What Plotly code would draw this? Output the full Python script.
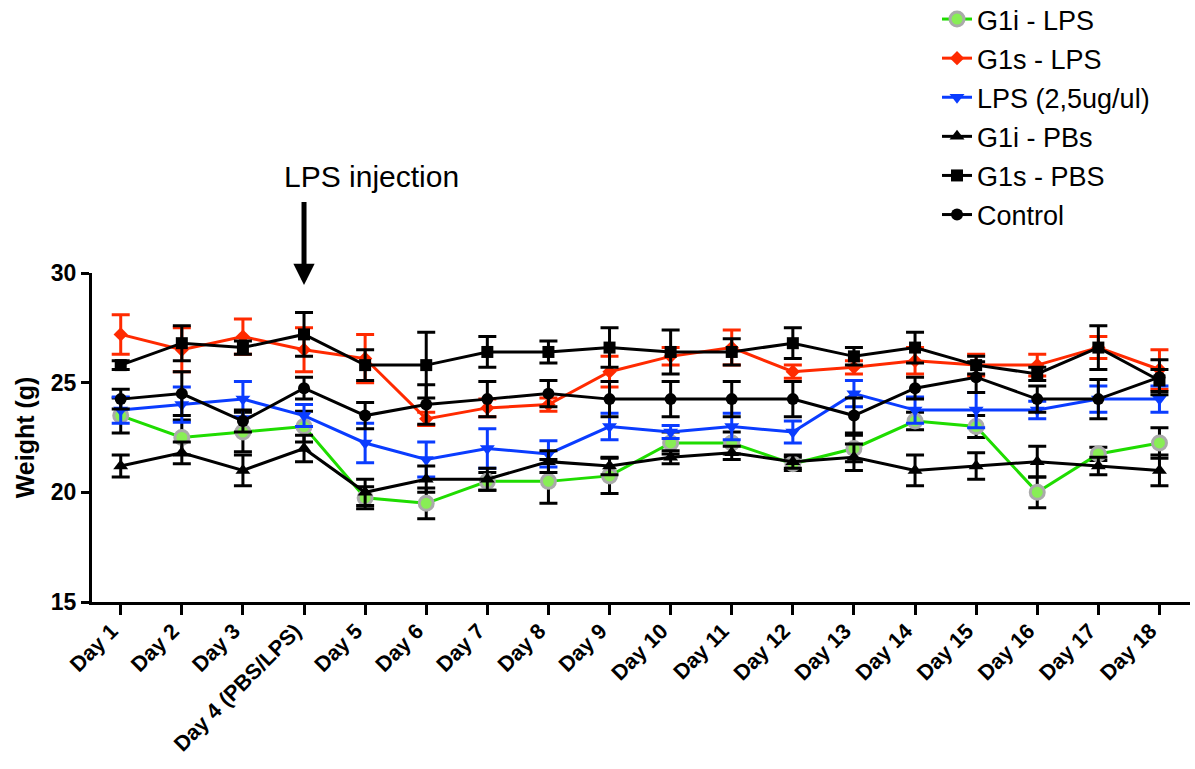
import plotly.graph_objects as go

days = ["Day 1", "Day 2", "Day 3", "Day 4 (PBS/LPS)", "Day 5", "Day 6", "Day 7", "Day 8",
        "Day 9", "Day 10", "Day 11", "Day 12", "Day 13", "Day 14", "Day 15", "Day 16",
        "Day 17", "Day 18"]

g1i_lps = [23.5, 22.5, 22.75, 23.0, 19.75, 19.5, 20.5, 20.5, 20.75, 22.25, 22.25, 21.3, 22.0, 23.25, 23.0, 20.0, 21.75, 22.25]
g1i_lps_err = [0.8, 0.8, 0.9, 0.7, 0.5, 0.7, 0.4, 1.0, 0.8, 0.5, 0.5, 0.3, 0.6, 0.4, 0.5, 0.7, 0.3, 0.7]

g1s_lps = [27.2, 26.5, 27.1, 26.5, 26.1, 23.35, 23.85, 24.0, 25.5, 26.2, 26.6, 25.5, 25.7, 26.0, 25.8, 25.8, 26.6, 25.6]
g1s_lps_err = [0.9, 1.0, 0.8, 1.0, 1.1, 0.3, 0.4, 0.3, 0.7, 0.4, 0.8, 0.3, 0.3, 0.6, 0.5, 0.5, 0.5, 0.9]

lps = [23.75, 24.0, 24.25, 23.5, 22.25, 21.5, 22.0, 21.75, 23.0, 22.75, 23.0, 22.75, 24.5, 23.75, 23.75, 23.75, 24.25, 24.25]
lps_err = [0.6, 0.8, 0.8, 0.5, 0.9, 0.8, 0.9, 0.6, 0.6, 0.3, 0.6, 0.5, 0.6, 0.6, 0.8, 0.4, 0.6, 0.6]

g1i_pbs = [21.2, 21.8, 21.0, 22.0, 20.0, 20.6, 20.6, 21.4, 21.2, 21.6, 21.8, 21.4, 21.6, 21.0, 21.2, 21.4, 21.2, 21.0]
g1i_pbs_err = [0.5, 0.5, 0.7, 0.6, 0.6, 0.6, 0.5, 0.5, 0.4, 0.3, 0.3, 0.3, 0.6, 0.7, 0.6, 0.7, 0.4, 0.7]

g1s_pbs = [25.8, 26.8, 26.6, 27.2, 25.8, 25.8, 26.4, 26.4, 26.6, 26.4, 26.4, 26.8, 26.2, 26.6, 25.8, 25.4, 26.6, 25.1]
g1s_pbs_err = [0.2, 0.8, 0.3, 1.0, 0.7, 1.5, 0.7, 0.5, 0.9, 1.0, 0.6, 0.7, 0.4, 0.7, 0.4, 0.3, 1.0, 0.5]

control = [24.25, 24.5, 23.25, 24.75, 23.5, 24.0, 24.25, 24.5, 24.25, 24.25, 24.25, 24.25, 23.5, 24.75, 25.25, 24.25, 24.25, 25.25]
control_err = [0.45, 1.0, 0.5, 0.5, 0.6, 0.9, 0.8, 0.6, 0.8, 0.8, 0.8, 0.8, 0.8, 0.5, 0.7, 0.6, 0.9, 0.8]

series = [
    ("G1i - LPS", g1i_lps, g1i_lps_err, "#1fdc00", dict(symbol="circle", size=14, color="#88ee55", line=dict(color="#aaaaaa", width=3)), "#000000"),
    ("G1s - LPS", g1s_lps, g1s_lps_err, "#ff2a00", dict(symbol="diamond", size=11, color="#ff2a00"), "#ff2a00"),
    ("LPS (2,5ug/ul)", lps, lps_err, "#0a3cff", dict(symbol="triangle-down", size=13, color="#0a3cff"), "#0a3cff"),
    ("G1i - PBs", g1i_pbs, g1i_pbs_err, "#000000", dict(symbol="triangle-up", size=13, color="#000000"), "#000000"),
    ("G1s - PBS", g1s_pbs, g1s_pbs_err, "#000000", dict(symbol="square", size=12, color="#000000"), "#000000"),
    ("Control", control, control_err, "#000000", dict(symbol="circle", size=12, color="#000000"), "#000000"),
]

fig = go.Figure()
for i, (name, vals, err, col, mk, ecol) in enumerate(series):
    fig.add_trace(go.Scatter(
        x=days, y=vals, name=name, mode="lines+markers",
        line=dict(color=col, width=3), marker=mk,
        error_y=dict(type="data", array=err, visible=True, color=ecol, thickness=3, width=9),
        legendgroup="g%d" % i,
    ))

font_fam = "Liberation Sans, Arial, sans-serif"

fig.update_layout(
    width=1195, height=769,
    margin=dict(l=92, r=5, t=273, b=167, autoexpand=False),
    paper_bgcolor="white", plot_bgcolor="white",
    font=dict(family=font_fam, color="black"),
    showlegend=True,
    legend=dict(x=0.7696, y=1.845, xanchor="left", yanchor="top",
                font=dict(size=27, family=font_fam), tracegroupgap=1,
                bgcolor="rgba(0,0,0,0)"),
    xaxis=dict(type="category", range=[-0.47, 17.5], showline=True, linewidth=3, linecolor="black",
               ticks="outside", ticklen=10, tickwidth=3, tickcolor="black", tickangle=-45, automargin=False,
               ticklabelshift=-9, ticklabelstandoff=-5,
               tickfont=dict(size=21.5, family=font_fam, weight="bold"), showgrid=False, zeroline=False),
    yaxis=dict(range=[15, 30], tickvals=[15, 20, 25, 30], showline=True, linewidth=3, linecolor="black",
               ticks="outside", ticklen=8, tickwidth=3, tickcolor="black", automargin=False,
               tickfont=dict(size=23, family=font_fam, weight="bold"), showgrid=False, zeroline=False,
               title=dict(text="Weight (g)", font=dict(size=25, family=font_fam, weight="bold"), standoff=10)),
)

fig.add_annotation(x=3, y=29.45, ax=3, ay=33.3, xref="x", yref="y", axref="x", ayref="y",
                   text="", showarrow=True, arrowhead=2, arrowsize=0.85, arrowwidth=5, arrowcolor="black")
fig.add_annotation(x=4.1, y=1.292, xref="x", yref="paper", yanchor="middle", text="LPS injection",
                   showarrow=False, font=dict(size=30, family=font_fam, color="black"))

fig.write_html("out.html")
